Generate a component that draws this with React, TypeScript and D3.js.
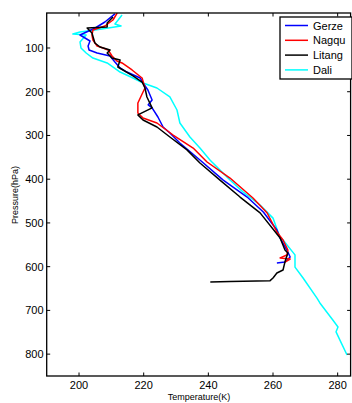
import { useEffect, useRef } from "react";
import * as d3 from "d3";

// [pressure hPa, temperature K]
const gerze: [number, number][] = [
  [22, 211.1], [40.6, 208], [54.3, 205], [70.3, 200.3], [84, 203.4], [95.5, 202.8],
  [104.6, 203.1], [111.5, 205.6], [118.3, 209.6], [132, 211.1], [145.8, 212.7],
  [155, 214.8], [168.6, 218.9], [180, 219.8], [196, 221.3], [219, 222.6], [230, 221.4],
  [237, 222.6], [257.8, 224.4], [280.7, 226], [294.4, 228.1], [317.3, 231.2],
  [356, 237.4], [402, 244.6], [440.8, 252], [475, 257], [516, 261.2], [534.5, 262.2],
  [562, 264.3], [578, 265.3], [589.4, 263.7], [591.7, 261.2],
];

const nagqu: [number, number][] = [
  [20, 211.8], [36, 210.5], [49.7, 208], [58.9, 204.3], [70.3, 204], [81.7, 204.3],
  [95.5, 205.6], [100, 207.4], [104.6, 209], [118.3, 210.2], [129.8, 211.7],
  [134.3, 213.3], [150.3, 216.4], [168.6, 219.5], [191.5, 220.4], [200.7, 219.8],
  [225.8, 218.2], [248.7, 218.2], [260, 219.8], [271.5, 224.1], [299, 229.1],
  [328.7, 235.3], [360.7, 239.6], [397.3, 246.7], [443, 253.8], [477.3, 258.2],
  [520.8, 261.2], [539, 263.1], [562, 264.6], [573.4, 264.3], [580, 262.2],
  [582.5, 265.3], [589.4, 263.7],
];

const litang: [number, number][] = [
  [29, 210.5], [43, 208.7], [52, 208.7], [54.3, 202.5], [65.7, 204], [88.6, 204.9],
  [97.7, 206.5], [104.6, 209.6], [111.5, 208.7], [123, 210.2], [127.5, 212.7],
  [143.5, 212], [150.3, 213.6], [164, 216.7], [177.8, 219.5], [191.5, 220.4],
  [212, 221], [237, 222.6], [253, 218.2], [264.7, 219.8], [280.7, 224.1],
  [303.6, 228.1], [333, 233.4], [363, 237.4], [402, 243.6], [440.8, 249.8],
  [477, 256], [534.5, 262.2], [562, 263.7], [569, 264.6], [589, 263.7],
  [607.7, 263.1], [614.6, 261.2], [626, 260], [632, 259.1], [634, 246.7], [635, 240.6],
];

const dali: [number, number][] = [
  [24.6, 213.3], [36, 212.1], [45, 211.1], [49.7, 213], [54.3, 209], [58.9, 204.9],
  [63.4, 200.3], [68, 198.1], [70.3, 202.2], [86.3, 200.3], [100, 200.6],
  [111.5, 202.2], [123, 204.3], [134.3, 208.7], [155, 212.7], [168.6, 216.7],
  [180, 219.8], [191.5, 224.1], [212, 228.1], [241.8, 230.3], [271.5, 231.2],
  [303.6, 234.3], [328.7, 237.4], [356, 240.5], [379, 243.6], [402, 246.7],
  [429, 250.7], [459, 256], [489, 260], [534.5, 262.2], [539, 263.1], [573, 266.8],
  [601, 266.8], [626, 269.3], [672, 273.6], [683, 274.5], [722, 278.5], [738, 280.1],
  [749, 279.5], [768, 280.7], [802, 282.9],
];

const stations = ["Gerze", "Nagqu", "Litang", "Dali"];
const colors = ["#0000ff", "#ff0000", "#000000", "#00ffff"];
const xTicks = [200, 220, 240, 260, 280];
const yTicks = [100, 200, 300, 400, 500, 600, 700, 800];

export default function App() {
  const ref = useRef<SVGSVGElement>(null);

  useEffect(() => {
    const width = 352;
    const height = 403;
    const left = 46.7, right = 350.6, top = 13, bottom = 376;

    const svg = d3.select(ref.current).attr("width", width).attr("height", height);
    svg.selectAll("*").remove();

    const x = d3.scaleLinear().domain([190, 284]).range([left, right]);
    const y = d3.scaleLinear().domain([20, 850]).range([top, bottom]);

    svg.append("rect").attr("width", width).attr("height", height).attr("fill", "#fff");

    svg.append("clipPath").attr("id", "plotclip")
      .append("rect")
      .attr("x", left).attr("y", top)
      .attr("width", right - left).attr("height", bottom - top);

    const line = d3.line<[number, number]>()
      .x(d => x(d[1]))
      .y(d => y(d[0]));

    const series = [gerze, nagqu, litang, dali];
    // draw order: dali underneath, then others
    [3, 0, 1, 2].forEach(i => {
      svg.append("path")
        .datum(series[i])
        .attr("clip-path", "url(#plotclip)")
        .attr("fill", "none")
        .attr("stroke", colors[i])
        .attr("stroke-width", 1.5)
        .attr("stroke-linejoin", "round")
        .attr("d", line);
    });

    const font = "Liberation Sans, Arial, sans-serif";

    // axes box
    svg.append("rect")
      .attr("x", left).attr("y", top)
      .attr("width", right - left).attr("height", bottom - top)
      .attr("fill", "none").attr("stroke", "#000").attr("stroke-width", 1.3);

    const tl = 3.5;
    xTicks.forEach(t => {
      svg.append("line").attr("x1", x(t)).attr("x2", x(t))
        .attr("y1", bottom).attr("y2", bottom - tl).attr("stroke", "#000");
      svg.append("line").attr("x1", x(t)).attr("x2", x(t))
        .attr("y1", top).attr("y2", top + tl).attr("stroke", "#000");
      svg.append("text").attr("x", x(t)).attr("y", 389)
        .attr("text-anchor", "middle").attr("font-family", font).attr("font-size", 11)
        .text(t);
    });

    yTicks.forEach(t => {
      svg.append("line").attr("x1", left).attr("x2", left + tl)
        .attr("y1", y(t)).attr("y2", y(t)).attr("stroke", "#000");
      svg.append("line").attr("x1", right).attr("x2", right - tl)
        .attr("y1", y(t)).attr("y2", y(t)).attr("stroke", "#000");
      svg.append("text").attr("x", 43.5).attr("y", y(t) + 4)
        .attr("text-anchor", "end").attr("font-family", font).attr("font-size", 11)
        .text(t);
    });

    svg.append("text")
      .attr("x", 199).attr("y", 399.5)
      .attr("text-anchor", "middle").attr("font-family", font).attr("font-size", 9)
      .text("Temperature(K)");

    svg.append("text")
      .attr("transform", "translate(18,195) rotate(-90)")
      .attr("text-anchor", "middle").attr("font-family", font).attr("font-size", 9)
      .text("Pressure(hPa)");

    // legend
    const lg = svg.append("g").attr("transform", "translate(280,17)");
    lg.append("rect").attr("width", 72).attr("height", 62)
      .attr("fill", "#fff").attr("stroke", "#000").attr("stroke-width", 1.3);
    stations.forEach((s, i) => {
      const yy = 8.5 + i * 14.8;
      lg.append("line").attr("x1", 5).attr("x2", 28).attr("y1", yy).attr("y2", yy)
        .attr("stroke", colors[i]).attr("stroke-width", 1.5);
      lg.append("text").attr("x", 33).attr("y", yy + 4)
        .attr("font-family", font).attr("font-size", 11).text(s);
    });
  }, []);

  return (
    <div style={{ position: "absolute", left: 0, top: 0 }}>
      <svg ref={ref} style={{ display: "block" }} />
    </div>
  );
}
